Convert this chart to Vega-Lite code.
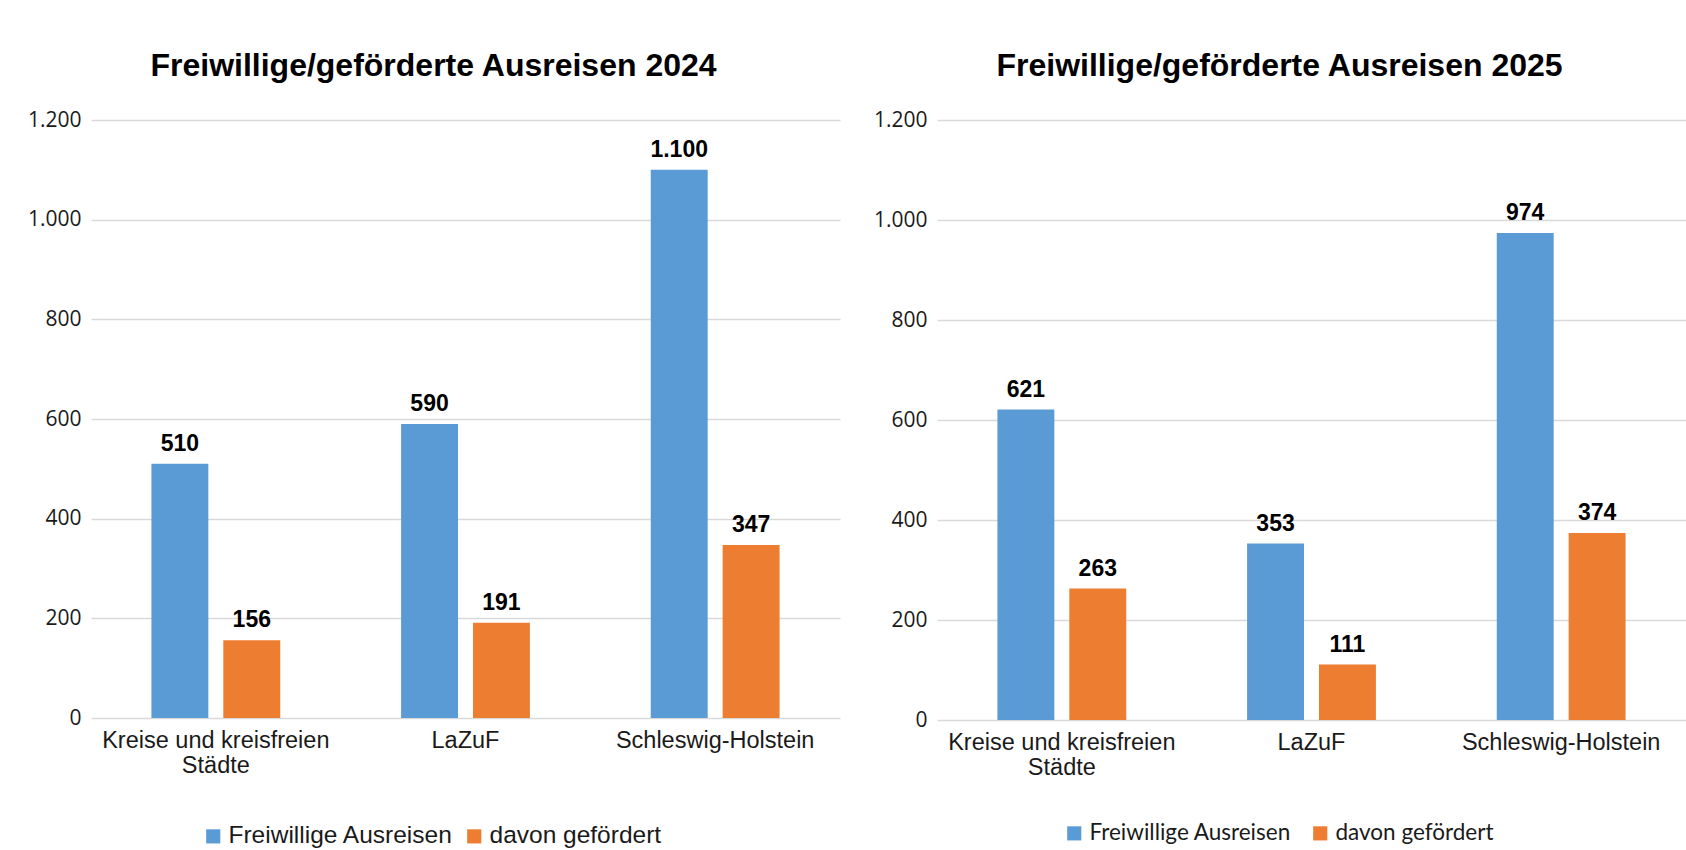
{
  "$schema": "https://vega.github.io/schema/vega-lite/v6.json",
  "padding": {"left": 27, "top": 50, "right": 0, "bottom": 0},
  "background": "white",
  "config": {
    "locale": {"number": {"decimal": ",", "thousands": ".", "grouping": [3], "currency": ["", " €"]}},
    "view": {"stroke": null},
    "axisY": {"grid": true, "gridColor": "#d9d9d9", "gridWidth": 1.5, "ticks": false, "domain": false, "labelPadding": 10, "labelFont": "Open Sans", "labelFontSize": 21, "labelColor": "#1a1a1a", "title": null},
    "axisX": {"grid": false, "ticks": false, "domain": false, "labelAngle": 0, "labelFont": "Liberation Sans", "labelFontSize": 23.5, "labelColor": "#1a1a1a", "labelPadding": 10, "labelLineHeight": 25, "title": null, "labelLimit": 400}
  },
  "datasets": {
    "d": [
      {"jahr": 2024, "kategorie": "Kreise und kreisfreien Städte", "reihe": "Freiwillige Ausreisen", "wert": 510},
      {"jahr": 2024, "kategorie": "Kreise und kreisfreien Städte", "reihe": "davon gefördert", "wert": 156},
      {"jahr": 2024, "kategorie": "LaZuF", "reihe": "Freiwillige Ausreisen", "wert": 590},
      {"jahr": 2024, "kategorie": "LaZuF", "reihe": "davon gefördert", "wert": 191},
      {"jahr": 2024, "kategorie": "Schleswig-Holstein", "reihe": "Freiwillige Ausreisen", "wert": 1100},
      {"jahr": 2024, "kategorie": "Schleswig-Holstein", "reihe": "davon gefördert", "wert": 347},
      {"jahr": 2025, "kategorie": "Kreise und kreisfreien Städte", "reihe": "Freiwillige Ausreisen", "wert": 621},
      {"jahr": 2025, "kategorie": "Kreise und kreisfreien Städte", "reihe": "davon gefördert", "wert": 263},
      {"jahr": 2025, "kategorie": "LaZuF", "reihe": "Freiwillige Ausreisen", "wert": 353},
      {"jahr": 2025, "kategorie": "LaZuF", "reihe": "davon gefördert", "wert": 111},
      {"jahr": 2025, "kategorie": "Schleswig-Holstein", "reihe": "Freiwillige Ausreisen", "wert": 974},
      {"jahr": 2025, "kategorie": "Schleswig-Holstein", "reihe": "davon gefördert", "wert": 374}
    ]
  },
  "spacing": 33,
  "resolve": {"scale": {"color": "independent", "x": "independent", "y": "independent", "xOffset": "independent"}, "legend": {"color": "independent"}},
  "hconcat": [
    {
      "width": 749,
      "height": 598,
      "title": {"text": "Freiwillige/geförderte Ausreisen 2024", "font": "Liberation Sans", "fontSize": 32, "fontWeight": "bold", "color": "#000000", "anchor": "middle", "dx": -32, "baseline": "alphabetic", "offset": 1},
      "data": {"name": "d"},
      "transform": [{"filter": "datum.jahr == 2024"}],
      "encoding": {
        "x": {"field": "kategorie", "type": "nominal", "sort": ["Kreise und kreisfreien Städte", "LaZuF", "Schleswig-Holstein"], "scale": {"paddingInner": 0.484, "paddingOuter": 0.242}, "axis": {"labelExpr": "datum.label == 'Kreise und kreisfreien Städte' ? ['Kreise und kreisfreien', 'Städte'] : datum.label"}},
        "xOffset": {"field": "reihe", "type": "nominal", "sort": ["Freiwillige Ausreisen", "davon gefördert"], "scale": {"paddingInner": 0.208, "paddingOuter": 0}},
        "y": {"field": "wert", "type": "quantitative", "scale": {"domain": [0, 1200], "nice": false}, "axis": {"values": [0, 200, 400, 600, 800, 1000, 1200], "format": ",d"}}
      },
      "layer": [
        {
          "mark": {"type": "bar"},
          "encoding": {
            "color": {"field": "reihe", "type": "nominal", "scale": {"domain": ["Freiwillige Ausreisen", "davon gefördert"], "range": ["#5B9BD5", "#ED7D31"]},
              "legend": {"title": null, "orient": "none", "direction": "horizontal", "legendX": 110, "legendY": 704, "symbolType": "square", "symbolSize": 200, "symbolStrokeWidth": 0, "labelFont": "Liberation Sans", "labelFontSize": 24.5, "labelColor": "#1a1a1a", "labelOffset": 3, "columnPadding": 8, "labelLimit": 400}}
          }
        },
        {
          "mark": {"type": "text", "dy": -13, "baseline": "alphabetic", "font": "Liberation Sans", "fontSize": 23, "fontWeight": "bold", "color": "#000000"},
          "encoding": {"text": {"field": "wert", "type": "quantitative", "format": ",d"}}
        }
      ]
    },
    {
      "width": 749,
      "height": 600,
      "title": {"text": "Freiwillige/geförderte Ausreisen 2025", "font": "Liberation Sans", "fontSize": 32, "fontWeight": "bold", "color": "#000000", "anchor": "middle", "dx": -32, "baseline": "alphabetic", "offset": 1},
      "data": {"name": "d"},
      "transform": [{"filter": "datum.jahr == 2025"}],
      "encoding": {
        "x": {"field": "kategorie", "type": "nominal", "sort": ["Kreise und kreisfreien Städte", "LaZuF", "Schleswig-Holstein"], "scale": {"paddingInner": 0.484, "paddingOuter": 0.242}, "axis": {"labelExpr": "datum.label == 'Kreise und kreisfreien Städte' ? ['Kreise und kreisfreien', 'Städte'] : datum.label"}},
        "xOffset": {"field": "reihe", "type": "nominal", "sort": ["Freiwillige Ausreisen", "davon gefördert"], "scale": {"paddingInner": 0.208, "paddingOuter": 0}},
        "y": {"field": "wert", "type": "quantitative", "scale": {"domain": [0, 1200], "nice": false}, "axis": {"values": [0, 200, 400, 600, 800, 1000, 1200], "format": ",d"}}
      },
      "layer": [
        {
          "mark": {"type": "bar"},
          "encoding": {
            "color": {"field": "reihe", "type": "nominal", "scale": {"domain": ["Freiwillige Ausreisen", "davon gefördert"], "range": ["#5B9BD5", "#ED7D31"]},
              "legend": {"title": null, "orient": "none", "direction": "horizontal", "legendX": 126, "legendY": 702, "symbolType": "square", "symbolSize": 200, "symbolStrokeWidth": 0, "labelFont": "Lato", "labelFontSize": 22.5, "labelColor": "#1a1a1a", "labelOffset": 4, "columnPadding": 18, "labelLimit": 400}}
          }
        },
        {
          "mark": {"type": "text", "dy": -13, "baseline": "alphabetic", "font": "Liberation Sans", "fontSize": 23, "fontWeight": "bold", "color": "#000000"},
          "encoding": {"text": {"field": "wert", "type": "quantitative", "format": ",d"}}
        }
      ]
    }
  ]
}
